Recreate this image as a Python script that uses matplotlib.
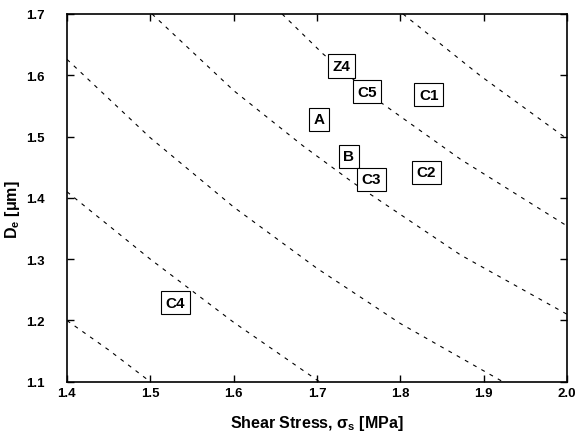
import matplotlib.pyplot as plt

plt.rcParams['font.family'] = ['Liberation Sans', 'DejaVu Sans']
plt.rcParams['mathtext.default'] = 'regular'

# Labelled specimens (shear stress, D_e)
labels = ['Z4', 'C5', 'C1', 'A', 'B', 'C3', 'C2', 'C4']
stress = [1.729, 1.760, 1.834, 1.702, 1.738, 1.765, 1.831, 1.530]
de = [1.615, 1.573, 1.568, 1.528, 1.468, 1.430, 1.442, 1.229]

# Dashed iso-lines, points
line1_x = [1.40, 1.45, 1.50]
line1_y = [1.200, 1.152, 1.100]
line2_x = [1.40, 1.50, 1.60, 1.703]
line2_y = [1.410, 1.300, 1.197, 1.100]
line3_x = [1.40, 1.50, 1.60, 1.70, 1.80, 1.923]
line3_y = [1.626, 1.498, 1.385, 1.285, 1.195, 1.100]
line4_x = [1.502, 1.60, 1.683, 1.743, 1.872, 2.00]
line4_y = [1.700, 1.575, 1.485, 1.425, 1.307, 1.210]
line5_x = [1.658, 1.707, 1.776, 1.872, 2.00]
line5_y = [1.700, 1.635, 1.556, 1.463, 1.354]
line6_x = [1.803, 1.896, 2.00]
line6_y = [1.700, 1.599, 1.496]

fig = plt.figure(figsize=(5.77, 4.39), dpi=100)
ax = fig.add_axes([0.116, 0.128, 0.867, 0.838])

for xs, ys in [(line1_x, line1_y), (line2_x, line2_y), (line3_x, line3_y),
               (line4_x, line4_y), (line5_x, line5_y), (line6_x, line6_y)]:
    ax.plot(xs, ys, color='black', lw=0.8, linestyle=(0, (3.5, 5)))

for lab, x, y in zip(labels, stress, de):
    ax.text(x, y, lab, ha='center', va='center', fontsize=11, fontweight='bold',
            bbox=dict(boxstyle='square,pad=0.3', fc='white', ec='black', lw=0.8))

ax.set_xlim(1.4, 2.0)
ax.set_ylim(1.1, 1.7)
ax.set_xticks([1.4, 1.5, 1.6, 1.7, 1.8, 1.9, 2.0])
ax.set_yticks([1.1, 1.2, 1.3, 1.4, 1.5, 1.6, 1.7])
ax.set_xticklabels(['1.4', '1.5', '1.6', '1.7', '1.8', '1.9', '2.0'])
ax.set_yticklabels(['1.1', '1.2', '1.3', '1.4', '1.5', '1.6', '1.7'])
ax.tick_params(direction='in', length=5, width=1, top=True, right=True, labelsize=9.5)
ax.tick_params(axis='x', pad=4)
ax.tick_params(axis='y', pad=16)
for lbl in ax.get_xticklabels() + ax.get_yticklabels():
    lbl.set_fontweight('bold')
for sp in ax.spines.values():
    sp.set_linewidth(1.2)

ax.set_xlabel('Shear Stress, σ$_s$ [MPa]', fontsize=11.5, fontweight='bold')
ax.set_ylabel('D$_e$ [μm]', fontsize=11.5, fontweight='bold')
ax.xaxis.set_label_coords(0.5, -0.085)
ax.yaxis.set_label_coords(-0.09, 0.47)

fig.savefig('out.png', dpi=100)
